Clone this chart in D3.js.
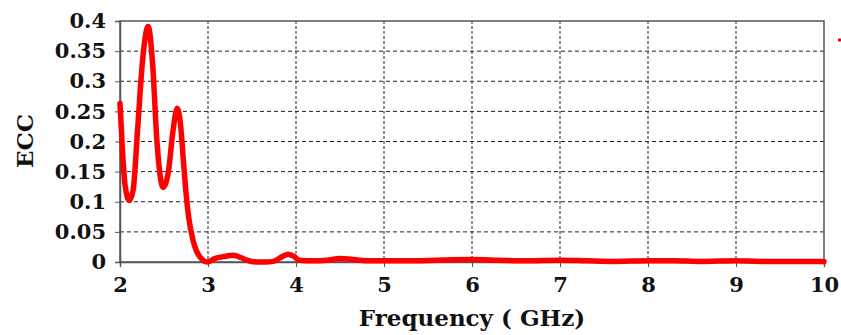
<!DOCTYPE html>
<html>
<head>
<meta charset="utf-8">
<script src="https://cdn.jsdelivr.net/npm/d3@7"></script>
<style>
  body { margin: 0; background: #fff; }
  #chart text { font-family: 'DejaVu Serif', serif; font-weight: bold; fill: #111; }
</style>
</head>
<body>
<svg id="chart" width="841" height="335"></svg>
<script>
// values
const freq = [2.0, 2.03, 2.06, 2.105, 2.15, 2.2, 2.26, 2.32, 2.37, 2.42, 2.49, 2.55, 2.6, 2.65, 2.69, 2.72, 2.75, 2.78, 2.83, 2.87, 2.91, 2.99, 3.08, 3.18, 3.29, 3.38, 3.44, 3.55, 3.65, 3.74, 3.82, 3.91, 3.98, 4.04, 4.2, 4.35, 4.5, 4.65, 4.8, 5.0, 5.3, 5.6, 6.0, 6.3, 6.6, 7.0, 7.3, 7.6, 8.0, 8.3, 8.6, 9.0, 9.3, 9.6, 10.0];
const ecc  = [0.263, 0.18, 0.125, 0.102, 0.12, 0.22, 0.34, 0.391, 0.33, 0.2, 0.124, 0.15, 0.215, 0.255, 0.225, 0.169, 0.115, 0.075, 0.036, 0.018, 0.008, 0.0, 0.006, 0.009, 0.011, 0.007, 0.003, 0.0, 0.0, 0.001, 0.007, 0.013, 0.009, 0.003, 0.002, 0.003, 0.006, 0.004, 0.002, 0.002, 0.002, 0.003, 0.004, 0.003, 0.002, 0.003, 0.002, 0.001, 0.002, 0.002, 0.001, 0.002, 0.001, 0.001, 0.001];
const xTicks = [2, 3, 4, 5, 6, 7, 8, 9, 10];
const yTicks = [0, 0.05, 0.1, 0.15, 0.2, 0.25, 0.3, 0.35, 0.4];

const svg = d3.select('#chart');
const plotL = 120, plotR = 824, plotT = 21, plotB = 262;

const x = d3.scaleLinear().domain([2, 10]).range([plotL, plotR]);
const y = d3.scaleLinear().domain([0, 0.4]).range([plotB, plotT]);

// grid
svg.append('g').selectAll('line').data(yTicks.slice(1, -1)).enter().append('line')
  .attr('x1', plotL).attr('x2', plotR)
  .attr('y1', d => y(d)).attr('y2', d => y(d))
  .attr('stroke', '#222').attr('stroke-width', 1).attr('stroke-dasharray', '4,3');
svg.append('g').selectAll('line').data(xTicks.slice(1, -1)).enter().append('line')
  .attr('x1', d => x(d)).attr('x2', d => x(d))
  .attr('y1', plotT).attr('y2', plotB)
  .attr('stroke', '#222').attr('stroke-width', 1).attr('stroke-dasharray', '3,2');

// frame
svg.append('rect')
  .attr('x', plotL).attr('y', plotT).attr('width', plotR - plotL).attr('height', plotB - plotT)
  .attr('fill', 'none').attr('stroke', '#555').attr('stroke-width', 1.5);

// axes
const xAxis = svg.append('g')
  .attr('transform', `translate(0,${plotB})`)
  .call(d3.axisBottom(x).tickValues(xTicks).tickSize(5).tickPadding(10).tickFormat(d3.format('d')));
const yAxis = svg.append('g')
  .attr('transform', `translate(${plotL},0)`)
  .call(d3.axisLeft(y).tickValues(yTicks).tickSize(5).tickPadding(9).tickFormat(d => d === 0 ? '0' : String(d)));
[xAxis, yAxis].forEach(g => {
  g.attr('font-family', null).attr('font-size', null);
  g.select('.domain').attr('stroke', '#555').attr('stroke-width', 1.5);
  g.selectAll('.tick line').attr('stroke', '#555');
  g.selectAll('text').style('font-size', '21px');
});

// curve
const line = d3.line().x((d, i) => x(freq[i])).y(d => y(d)).curve(d3.curveMonotoneX);
svg.append('path')
  .attr('d', line(ecc))
  .attr('fill', 'none').attr('stroke', '#f00').attr('stroke-width', 5.5)
  .attr('stroke-linejoin', 'round').attr('stroke-linecap', 'round');

// clipped legend remnant
svg.append('line').attr('x1', 838).attr('x2', 848).attr('y1', 40).attr('y2', 40)
  .attr('stroke', '#f00').attr('stroke-width', 3);

// labels
svg.append('text').attr('x', 472).attr('y', 326).attr('text-anchor', 'middle')
  .style('font-size', '23px').text('Frequency ( GHz)');
svg.append('text').attr('transform', 'translate(33,141) rotate(-90)').attr('text-anchor', 'middle')
  .style('font-size', '23px').text('ECC');
</script>
</body>
</html>
